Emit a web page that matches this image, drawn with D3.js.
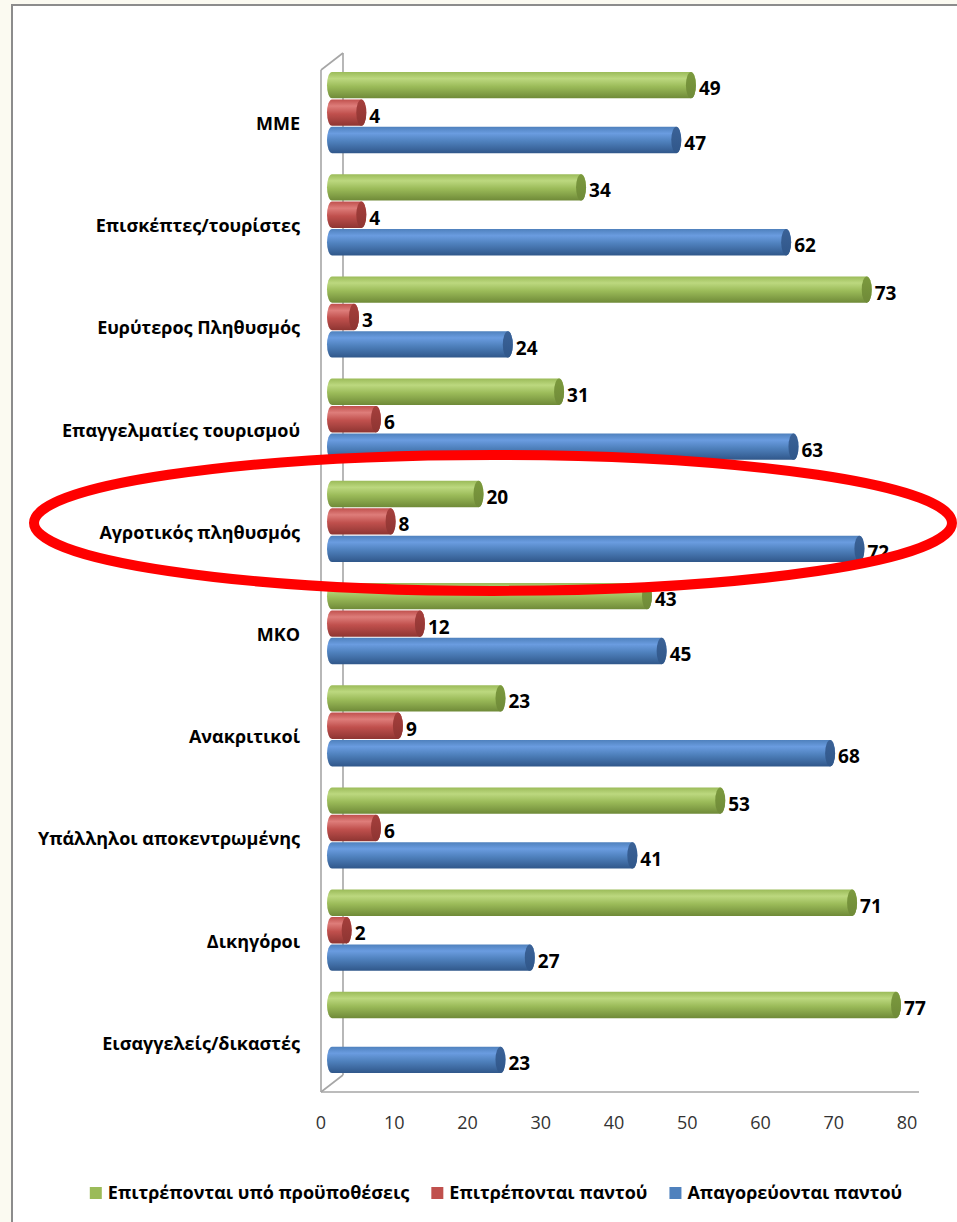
<!DOCTYPE html>
<html><head><meta charset="utf-8">
<script src="https://cdn.jsdelivr.net/npm/d3@7"></script>
<style>
html,body{margin:0;padding:0;background:#fbfaf1;}
svg{display:block;}
</style></head>
<body>
<svg id="chart" width="957" height="1222"></svg>
<script>
const categories = ["ΜΜΕ","Επισκέπτες/τουρίστες","Ευρύτερος Πληθυσμός","Επαγγελματίες τουρισμού","Αγροτικός πληθυσμός","ΜΚΟ","Ανακριτικοί","Υπάλληλοι αποκεντρωμένης","Δικηγόροι","Εισαγγελείς/δικαστές"];
const seriesNames = ["Επιτρέπονται υπό προϋποθέσεις","Επιτρέπονται παντού","Απαγορεύονται παντού"];
const greenValues = [49,34,73,31,20,43,23,53,71,77];
const redValues = [4,4,3,6,8,12,9,6,2,0];
const blueValues = [47,62,24,63,72,45,68,41,27,23];
const xTicks = [0,10,20,30,40,50,60,70,80];
const highlighted = "Αγροτικός πληθυσμός";

const seriesValues = [greenValues, redValues, blueValues];
const colors = [
  {light:"#bcd87f", mid:"#9bbb59", dark:"#6f8a38", cap:"#7c9a3e"},
  {light:"#de7d7a", mid:"#c0504d", dark:"#8e3532", cap:"#a53f3c"},
  {light:"#6a9ce0", mid:"#4f81bd", dark:"#30578a", cap:"#3b6297"}
];

const FONT = "'Open Sans', 'Noto Sans', sans-serif";
const svg = d3.select("#chart");
const W = 957, H = 1222;

// frame
svg.append("rect").attr("x",12).attr("y",5).attr("width",W).attr("height",H)
  .attr("fill","#ffffff").attr("stroke","#8c8c8c").attr("stroke-width",2);

const x = d3.scaleLinear().domain([0,80]).range([321,907]);
const y = d3.scaleBand().domain(categories).range([70,1092]).paddingInner(0.205).paddingOuter(0.1025);
const ys = d3.scaleBand().domain(d3.range(3)).range([0,y.bandwidth()]).paddingInner(0.04);
const depthX = 22, depthY = -17;

// gradients
const defs = svg.append("defs");
colors.forEach((c,i)=>{
  const g = defs.append("linearGradient").attr("id","g"+i).attr("x1",0).attr("y1",0).attr("x2",0).attr("y2",1);
  g.append("stop").attr("offset","0%").attr("stop-color",c.mid);
  g.append("stop").attr("offset","25%").attr("stop-color",c.light);
  g.append("stop").attr("offset","55%").attr("stop-color",c.mid);
  g.append("stop").attr("offset","100%").attr("stop-color",c.dark);
  const gc = defs.append("linearGradient").attr("id","c"+i).attr("x1",0).attr("y1",0).attr("x2",0).attr("y2",1);
  gc.append("stop").attr("offset","0%").attr("stop-color",c.cap);
  gc.append("stop").attr("offset","100%").attr("stop-color",c.dark);
});

// walls
const wall = svg.append("g").attr("stroke","#a6a6a6").attr("stroke-width",1.6).attr("fill","none");
const x0 = x(0), yTop = y.range()[0], yBot = y.range()[1];
wall.append("line").attr("x1",x0).attr("y1",yTop).attr("x2",x0).attr("y2",yBot);
wall.append("line").attr("x1",x0+depthX).attr("y1",yTop+depthY).attr("x2",x0+depthX).attr("y2",yBot+depthY);
wall.append("line").attr("x1",x0).attr("y1",yTop).attr("x2",x0+depthX).attr("y2",yTop+depthY);
wall.append("line").attr("x1",x0).attr("y1",yBot).attr("x2",x0+depthX).attr("y2",yBot+depthY);
wall.append("line").attr("x1",x0).attr("y1",yBot).attr("x2",x(80)+12).attr("y2",yBot);

// bars
const capRx = 5;
const bars = svg.append("g");
categories.forEach((cat,ci)=>{
  seriesValues.forEach((vals,si)=>{
    const v = vals[ci];
    if(!v) return;
    const top = y(cat) + ys(si) + depthY/2;
    const h = ys.bandwidth();
    const xs = x(0) + depthX/2, xe = x(v) + depthX/2;
    bars.append("rect").attr("x",xs-capRx).attr("y",top).attr("width",xe-xs+2*capRx).attr("height",h)
      .attr("rx",capRx).attr("ry",h/2).attr("fill","url(#g"+si+")");
    bars.append("ellipse").attr("cx",xe).attr("cy",top+h/2).attr("rx",capRx).attr("ry",h/2)
      .attr("fill","url(#c"+si+")");
    bars.append("text").attr("x",xe+capRx+3).attr("y",top+h/2+5).attr("dominant-baseline","middle")
      .attr("font-family",FONT).attr("font-weight",700).attr("font-size",19).attr("fill","#000")
      .text(v);
  });
});

// category labels
svg.append("g").selectAll("text").data(categories).join("text")
  .attr("x",300).attr("y",d=>y(d)+y.bandwidth()/2+4).attr("text-anchor","end").attr("dominant-baseline","middle")
  .attr("font-family",FONT).attr("font-weight",700).attr("font-size",18).attr("fill","#000").text(d=>d);

// x axis tick labels
svg.append("g").selectAll("text").data(xTicks).join("text")
  .attr("x",d=>x(d)).attr("y",1124).attr("text-anchor","middle").attr("dominant-baseline","middle")
  .attr("font-family",FONT).attr("font-size",18).attr("fill","#333").text(d=>d);

// highlight ellipse
const hy = y(highlighted) + y.bandwidth()/2 - 7;
svg.append("ellipse").attr("cx",493).attr("cy",hy).attr("rx",459).attr("ry",68)
  .attr("fill","none").attr("stroke","#ff0000").attr("stroke-width",10);

// legend
const leg = svg.append("g");
let lx = 0;
const items = [];
seriesNames.forEach((n,i)=>{
  const g = leg.append("g");
  g.append("rect").attr("x",0).attr("y",-6).attr("width",12).attr("height",12).attr("fill",colors[i].mid);
  const t = g.append("text").attr("x",18).attr("y",1).attr("dominant-baseline","middle")
    .attr("font-family",FONT).attr("font-weight",700).attr("font-size",18).attr("fill","#000").text(n);
  const w = 18 + t.node().getComputedTextLength();
  items.push({g,w});
});
const gap = 22;
const total = d3.sum(items,d=>d.w) + gap*(items.length-1);
lx = 496 - total/2;
items.forEach(it=>{ it.g.attr("transform",`translate(${lx},1193)`); lx += it.w + gap; });
</script>
</body></html>
